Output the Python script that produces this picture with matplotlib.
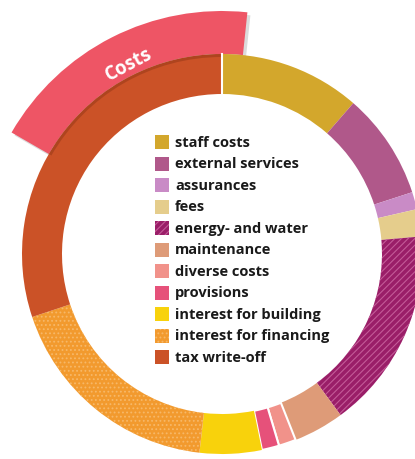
import numpy as np
import matplotlib.pyplot as plt
from matplotlib.patches import Wedge, Rectangle

labels = ['staff costs', 'external services', 'assurances', 'fees',
          'energy- and water', 'maintenance', 'diverse costs', 'provisions',
          'interest for building', 'interest for financing', 'tax write-off']
shares = [11.4, 8.6, 1.4, 2.2, 16.3, 4.1, 1.4, 1.4, 5.0, 18.1, 30.1]
colors = ['#D3A72C', '#B0588A', '#C98BC6', '#E5CD8C', '#9A1E68', '#DE9B78',
          '#F1928A', '#E6517A', '#F8D20C', '#F29A2E', '#CB5227']
hatches = [None, None, None, None, '/////', None, None, None, None, '....', None]
hatch_cols = [None, None, None, None, '#C45A98', None, None, None, None, '#F7B868', None]
title = 'Costs'

plt.rcParams['hatch.linewidth'] = 0.8

fig = plt.figure(figsize=(4.15, 4.6), dpi=100)
ax = fig.add_axes([0, 0, 1, 1])
ax.set_xlim(0, 415)
ax.set_ylim(0, 460)
ax.set_aspect('equal')
ax.axis('off')

cx, cy = 222, 205
R, W = 200, 40

# outer "Costs" band with a soft shadow
ax.add_patch(Wedge((cx + 3, cy - 3), 243, 84, 150, width=43, color='#999999', alpha=0.35, lw=0))
ax.add_patch(Wedge((cx, cy), 243, 84, 150, width=43, color='#EE5565', lw=0))
a = np.deg2rad(116)
ax.text(cx + 212 * np.cos(a), cy + 212 * np.sin(a), title, color='white',
        fontsize=13.5, fontweight='bold', family='Open Sans',
        rotation=28, ha='center', va='center')

# ring, clockwise from the top
total = sum(shares)
start = 90.0
for i, v in enumerate(shares):
    span = v / total * 360
    t1, t2 = start - span, start
    ec = 'white' if labels[i] in ('provisions', 'diverse costs') else 'none'
    ax.add_patch(Wedge((cx, cy), R, t1, t2, width=W, facecolor=colors[i],
                       edgecolor=ec, lw=1.5 if ec == 'white' else 0))
    if hatches[i]:
        ax.add_patch(Wedge((cx, cy), R, t1, t2, width=W, facecolor='none',
                           edgecolor=hatch_cols[i], hatch=hatches[i], lw=0))
    start = t1
ax.plot([cx, cx], [cy + R - W, cy + R], color='white', lw=1.5)
# thin shadow under the band on the ring
ax.add_patch(Wedge((cx, cy), R, 90, 150, width=3, color='#7a2a10', alpha=0.35, lw=0))

# legend
for i, lab in enumerate(labels):
    y = 460 - 143 - i * 21.5
    ax.add_patch(Rectangle((155, y - 7), 14, 14, facecolor=colors[i], lw=0))
    if hatches[i]:
        ax.add_patch(Rectangle((155, y - 7), 14, 14, facecolor='none',
                               edgecolor=hatch_cols[i], hatch=hatches[i], lw=0))
    ax.text(175, y, lab, fontsize=10.5, fontweight='bold', family='Open Sans',
            color='#1a1a1a', va='center', ha='left')

fig.savefig('out.png', dpi=100)
